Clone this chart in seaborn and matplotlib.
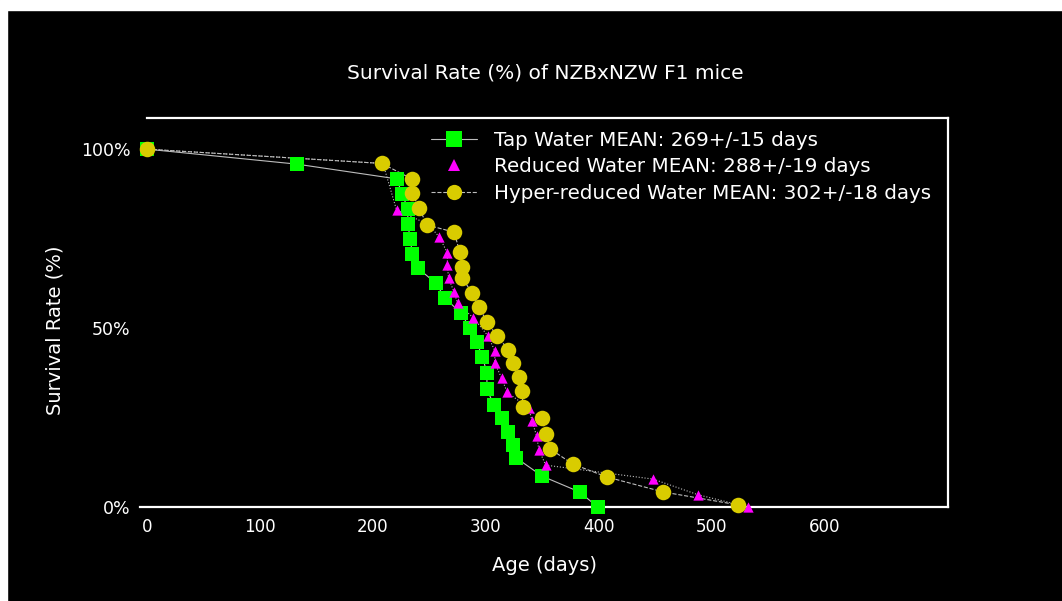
import matplotlib
matplotlib.use("Agg")
import matplotlib.pyplot as plt
from matplotlib.lines import Line2D
from matplotlib.patches import Rectangle
import seaborn as sns
import pandas as pd

# Survival curves (age in days, % surviving)
tap_age = [0, 133, 221, 226, 231, 231, 233, 235, 240, 256, 264, 278, 286, 292,
           297, 301, 301, 307, 314, 320, 324, 327, 350, 383, 399]
tap_surv = [100, 95.8, 91.7, 87.5, 83.3, 79.2, 75, 70.8, 66.7, 62.5, 58.3, 54.2,
            50, 46, 42, 37.4, 33, 28.5, 24.9, 21, 17.3, 13.7, 8.6, 4.2, 0]

red_age = [0, 209, 221, 249, 259, 266, 266, 267, 272, 275, 289, 302, 308, 308,
           314, 319, 338, 341, 345, 347, 353, 448, 488, 532]
red_surv = [100, 96, 83, 79, 75.4, 71, 67.6, 64, 60, 57, 52.8, 47.8, 43.6, 40.2,
            36, 32, 27.7, 24, 19.8, 16, 11.7, 7.8, 3.4, 0]

hyp_age = [0, 208, 235, 235, 241, 248, 272, 277, 279, 279, 288, 294, 301, 310,
           320, 324, 329, 332, 333, 350, 353, 357, 377, 407, 457, 523]
hyp_surv = [100, 96, 91.6, 87.7, 83.5, 78.8, 76.8, 71.2, 67, 64, 59.8, 55.9, 51.7,
            47.8, 43.9, 40.2, 36.3, 32.4, 28, 24.9, 20.4, 16.2, 12, 8.4, 4.2, 0.6]

labels = ["Tap Water MEAN: 269+/-15 days",
          "Reduced Water MEAN: 288+/-19 days",
          "Hyper-reduced Water MEAN: 302+/-18 days"]

sns.set_style("dark")
plt.rcParams['font.family'] = ['DejaVu Sans']

fig = plt.figure(figsize=(10.62, 6.01), dpi=100, facecolor='black')
fig.patches.append(Rectangle((0, 0), 7 / 1062, 1, transform=fig.transFigure,
                             color='white', zorder=0))
fig.patches.append(Rectangle((0, 1 - 10 / 601), 1, 10 / 601, transform=fig.transFigure,
                             color='white', zorder=0))
ax = fig.add_axes([140 / 1062, 94 / 601, 808 / 1062, 389 / 601])
ax.set_facecolor('black')

groups = [
    (tap_age, tap_surv, '#00ff00', 's', 110, '-'),
    (red_age, red_surv, '#ff00ff', '^', 55, ':'),
    (hyp_age, hyp_surv, '#d9cc00', 'o', 125, '--'),
]
for age, surv, col, mk, size, ls in groups:
    df = pd.DataFrame({'age': age, 'surv': surv})
    sns.lineplot(data=df, x='age', y='surv', sort=False, estimator=None, ax=ax,
                 color='#bdbdbd', linewidth=0.8, linestyle=ls, zorder=2)
    sns.scatterplot(data=df, x='age', y='surv', ax=ax, color=col, marker=mk,
                    s=size, linewidth=0, zorder=3, clip_on=False)

ax.set_xlim(-6, 709)
ax.set_ylim(0, 108.7)
ax.set_xticks([0, 100, 200, 300, 400, 500, 600])
ax.set_yticks([0, 50, 100])
ax.set_yticklabels(['0%', '50%', '100%'])
ax.tick_params(axis='x', colors='white', labelsize=12, length=4, width=1.2,
               direction='out', pad=4)
ax.tick_params(axis='y', colors='white', labelsize=12.5, length=0, pad=7)
ax.grid(False)

for side in ['top', 'right', 'bottom']:
    ax.spines[side].set_visible(True)
    ax.spines[side].set_color('white')
    ax.spines[side].set_linewidth(1.6)
ax.spines['left'].set_visible(False)
ax.spines['top'].set_bounds(0, 709)

ax.set_xlabel('Age (days)', color='white', fontsize=14)
ax.xaxis.set_label_coords(0.5, -0.125)
ax.set_ylabel('Survival Rate (%)', color='white', fontsize=14)
ax.yaxis.set_label_coords(-0.093, 0.455)

fig.text(545 / 1062, 1 - 73 / 601, 'Survival Rate (%) of NZBxNZW F1 mice',
         color='white', fontsize=14.5, ha='center', va='center')

handles = [
    Line2D([], [], color='#bdbdbd', lw=0.8, ls='-', marker='s',
           markerfacecolor='#00ff00', markeredgewidth=0, markersize=11),
    Line2D([], [], color='#bdbdbd', ls='none', marker='^',
           markerfacecolor='#ff00ff', markeredgewidth=0, markersize=8),
    Line2D([], [], color='#bdbdbd', lw=0.8, ls='--', marker='o',
           markerfacecolor='#d9cc00', markeredgewidth=0, markersize=11),
]
leg = ax.legend(handles, labels, loc='upper left', frameon=False,
                bbox_to_anchor=(431 / 1062, 1 - 130.5 / 601),
                bbox_transform=fig.transFigure, fontsize=14.3, handlelength=2.32,
                handletextpad=0.86, labelspacing=0.38, borderpad=0, borderaxespad=0)
for t in leg.get_texts():
    t.set_color('white')

fig.savefig('out.png', dpi=100, facecolor=fig.get_facecolor())
